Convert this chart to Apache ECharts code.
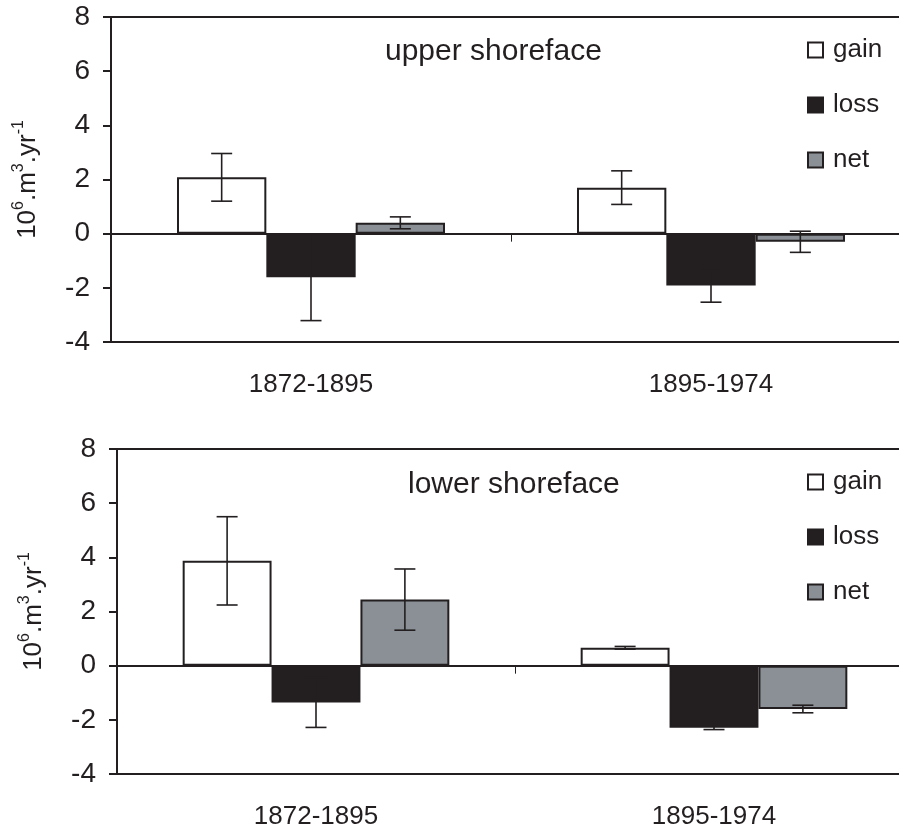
<!DOCTYPE html>
<html>
<head>
<meta charset="utf-8">
<script src="https://cdn.jsdelivr.net/npm/echarts@6/dist/echarts.min.js"></script>
<style>html,body{margin:0;padding:0;background:#fff;}#c{width:899px;height:832px;}</style>
</head>
<body>
<div id="c"></div>
<script>
// ---- data ----
var categories = ['1872-1895', '1895-1974'];
var yTicks = { min: -4, max: 8, interval: 2 };
var seriesNames = ['gain', 'loss', 'net'];

var upperGain = [2.08, 1.70];
var upperGainErr = [0.88, 0.62];
var upperLoss = [-1.61, -1.91];
var upperLossErr = [1.60, 0.62];
var upperNet = [0.40, -0.30];
var upperNetErr = [0.22, 0.39];

var lowerGain = [3.87, 0.66];
var lowerGainErr = [1.63, 0.05];
var lowerLoss = [-1.36, -2.29];
var lowerLossErr = [0.92, 0.07];
var lowerNet = [2.44, -1.60];
var lowerNetErr = [1.13, 0.14];

var panelTitles = ['upper shoreface', 'lower shoreface'];

// ---- style ----
var INK = '#231f20';
var FILLS = ['#ffffff', '#231f20', '#8a9096'];
var FONT = '"Liberation Sans", Arial, Helvetica, sans-serif';
var GAP = 0.33;

var chart = echarts.init(document.getElementById('c'));

function grids() {
  return [
    { left: 111, top: 17, width: 800, height: 325, outerBoundsMode: 'none', containLabel: false,
      show: true, borderColor: INK, borderWidth: 2, backgroundColor: 'transparent' },
    { left: 117, top: 449, width: 796, height: 325, outerBoundsMode: 'none', containLabel: false,
      show: true, borderColor: INK, borderWidth: 2, backgroundColor: 'transparent' }
  ];
}

function xAxes(gi) {
  return [
    { type: 'category', gridIndex: gi, data: categories, position: 'top',
      axisLine: { onZero: true, lineStyle: { color: INK, width: 2 } },
      axisTick: { show: true, inside: true, length: 8, lineStyle: { color: INK, width: 1 } },
      axisLabel: { show: false }, splitLine: { show: false } },
    { type: 'category', gridIndex: gi, data: categories, position: 'bottom',
      axisLine: { show: false, onZero: false }, axisTick: { show: false },
      axisLabel: { show: true, margin: 30, color: INK, fontSize: 26, fontFamily: FONT },
      splitLine: { show: false } }
  ];
}

function yAxis(gi) {
  return {
    type: 'value', gridIndex: gi, min: yTicks.min, max: yTicks.max, interval: yTicks.interval,
    axisLine: { show: true, lineStyle: { color: INK, width: 2 } },
    axisTick: { show: true, length: 8, lineStyle: { color: INK, width: 2 } },
    axisLabel: { margin: 21, color: INK, fontSize: 28, fontFamily: FONT },
    splitLine: { show: false },
    name: '{b|10}{s|6}{b|.m}{s|3}{b|.yr}{s|-1}',
    nameLocation: 'middle', nameGap: 70, nameRotate: 90,
    nameTextStyle: {
      color: INK, fontFamily: FONT,
      rich: {
        b: { fontSize: 26, color: INK, fontFamily: FONT, verticalAlign: 'bottom', lineHeight: 30 },
        s: { fontSize: 16, color: INK, fontFamily: FONT, verticalAlign: 'top', lineHeight: 30 }
      }
    }
  };
}

function barSeries(gi, vals, idx) {
  return {
    type: 'bar', name: seriesNames[idx], xAxisIndex: gi * 2, yAxisIndex: gi,
    data: vals, barGap: '0%', barCategoryGap: (GAP * 100) + '%',
    itemStyle: { color: FILLS[idx], borderColor: INK, borderWidth: 2 },
    emphasis: { disabled: true }, animation: false, z: 2
  };
}

function errSeries(gi, vals, errs, idx) {
  var d = vals.map(function (v, i) { return [i, v, errs[i], idx]; });
  return {
    type: 'custom', xAxisIndex: gi * 2, yAxisIndex: gi, data: d, z: 5, silent: true, animation: false,
    renderItem: function (params, api) {
      var cat = api.value(0), v = api.value(1), e = api.value(2), bi = api.value(3);
      var band = api.size([1, 0])[0];
      var bw = band * (1 - GAP) / 3;
      var x = api.coord([cat, v])[0] + (bi - 1) * bw;
      var yt = api.coord([cat, v + e])[1];
      var yb = api.coord([cat, v - e])[1];
      var cap = 10.5;
      var st = { stroke: INK, lineWidth: 1.6 };
      return { type: 'group', children: [
        { type: 'line', shape: { x1: x, y1: yt, x2: x, y2: yb }, style: st },
        { type: 'line', shape: { x1: x - cap, y1: yt, x2: x + cap, y2: yt }, style: st },
        { type: 'line', shape: { x1: x - cap, y1: yb, x2: x + cap, y2: yb }, style: st }
      ] };
    }
  };
}

function legend(top) {
  return {
    left: 807, top: top, padding: 0, orient: 'vertical', itemWidth: 15, itemHeight: 15, itemGap: 29,
    icon: 'rect', data: seriesNames, selectedMode: false,
    textStyle: { color: INK, fontSize: 26, fontFamily: FONT, padding: [0, 0, 0, 5] }
  };
}

var option = {
  backgroundColor: '#ffffff',
  animation: false,
  title: [
    { text: panelTitles[0], left: 385, top: 37, padding: 0, textStyle: { color: INK, fontSize: 30, fontWeight: 'normal', fontFamily: FONT } },
    { text: panelTitles[1], left: 408, top: 470, padding: 0, textStyle: { color: INK, fontSize: 30, fontWeight: 'normal', fontFamily: FONT } }
  ],
  legend: [legend(37), legend(469)],
  grid: grids(),
  xAxis: xAxes(0).concat(xAxes(1)),
  yAxis: [yAxis(0), yAxis(1)],
  series: [
    barSeries(0, upperGain, 0), barSeries(0, upperLoss, 1), barSeries(0, upperNet, 2),
    errSeries(0, upperGain, upperGainErr, 0), errSeries(0, upperLoss, upperLossErr, 1), errSeries(0, upperNet, upperNetErr, 2),
    barSeries(1, lowerGain, 0), barSeries(1, lowerLoss, 1), barSeries(1, lowerNet, 2),
    errSeries(1, lowerGain, lowerGainErr, 0), errSeries(1, lowerLoss, lowerLossErr, 1), errSeries(1, lowerNet, lowerNetErr, 2)
  ]
};
chart.setOption(option);
</script>
</body>
</html>
